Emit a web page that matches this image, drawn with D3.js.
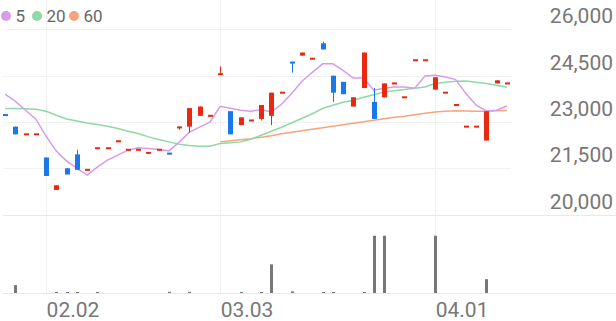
<!DOCTYPE html>
<html>
<head>
<meta charset="utf-8">
<script src="https://cdn.jsdelivr.net/npm/d3@7"></script>
<style>
  html, body { margin: 0; padding: 0; background: #fff; }
  svg { display: block; font-family: Roboto, "Noto Sans", sans-serif; }
</style>
</head>
<body>
<svg id="chart" width="616" height="321"></svg>
<script>
/* daily candles, 2026-01-27 .. 2026-04-10 */
const dates = ["01.27","01.28","01.29","01.30","02.02","02.03","02.04","02.05","02.06","02.09",
  "02.10","02.11","02.12","02.13","02.19","02.20","02.23","02.24","02.25","02.26",
  "02.27","03.03","03.04","03.05","03.06","03.09","03.10","03.11","03.12","03.13",
  "03.16","03.17","03.18","03.19","03.20","03.23","03.24","03.25","03.26","03.27",
  "03.30","03.31","04.01","04.02","04.03","04.06","04.07","04.08","04.09","04.10"];

const open = [23250,22850,22600,22600,21850,20800,21500,21950,21450,22150,
  22150,22350,22100,22100,22000,22100,22000,22800,22850,23200,
  23200,24550,23350,22900,23050,23100,23200,23950,24950,25150,
  25050,25550,24500,24300,23500,24100,23650,23800,24250,23800,
  25000,25000,24050,23950,23550,22850,22850,22400,24250,24250];
const high = [23250,22850,22600,22600,21850,20950,21500,22100,21450,22150,
  22150,22400,22100,22100,22000,22100,22000,22850,23450,23500,
  23200,24800,23350,23150,23050,23550,23950,23950,24950,25250,
  25050,25600,24500,24300,23800,25250,24100,24250,24250,23800,
  25000,25000,24450,23950,23550,22850,22850,23350,24350,24250];
const low = [23200,22600,22600,22600,21250,20800,21300,21450,21450,22150,
  22150,22350,22100,22100,22000,22100,21950,22750,22650,23200,
  23200,24550,22600,22900,23050,23050,22900,23950,24600,25150,
  25050,25350,23650,23900,23500,24100,23100,23800,24250,23800,
  25000,25000,24050,23950,23550,22850,22850,22400,24250,24250];
const close = [23200,22600,22600,22600,21250,20950,21300,21450,21450,22150,
  22150,22400,22100,22100,22000,22100,21950,22850,23450,23500,
  23200,24550,22600,23150,23050,23550,23950,23950,24900,25250,
  25050,25350,23950,23900,23800,25250,23100,24250,24250,23800,
  25000,25000,24450,23950,23550,22850,22850,23350,24350,24250];

const volume = [0,400,0,0,0,30,30,30,0,30,
  0,0,0,0,0,0,60,0,60,0,
  0,0,0,30,0,30,1450,0,80,0,
  0,30,30,0,0,30,2900,2900,0,0,
  0,0,2900,0,0,0,0,700,0,0];

/* moving averages */
const ma5 = [23900,23670,23381,23090,22541,22056,21732,21506,21280,21538,
  21765,21926,22088,22162,22143,22111,22065,22347,22670,22832,
  22993,23511,23446,23381,23349,23404,23326,23575,23931,24319,
  24610,24885,24885,24674,24426,24426,24028,24093,24135,24135,
  24093,24490,24513,24458,24374,23921,23543,23359,23381,23520];
const ma20 = [23436,23436,23430,23414,23349,23220,23100,23035,22971,22919,
  22864,22790,22702,22628,22518,22434,22356,22282,22240,22217,
  22217,22305,22324,22356,22444,22573,22702,22832,22977,23123,
  23268,23436,23543,23640,23705,23802,23882,23973,24012,24051,
  24093,24135,24244,24287,24319,24329,24287,24244,24190,24125];
const ma60 = [null,null,null,null,null,null,null,null,null,null,
  null,null,null,null,null,null,null,null,null,null,
  null,22356,22395,22428,22460,22508,22557,22621,22670,22719,
  22767,22815,22864,22912,22961,23009,23058,23106,23155,23187,
  23236,23284,23326,23349,23365,23360,23349,23349,23365,23370];

const maNames = ["5", "20", "60"];
const maColors = ["#d69ceb", "#8fd9a3", "#f7a47e"];
const priceTicks = [20000, 21500, 23000, 24500, 26000];
const dateTicks = ["02.02", "03.03", "04.01"];

const UP = "#e8290f", DOWN = "#1a78ea";

const svg = d3.select("#chart");
const W = 616;

const x = d3.scaleBand().domain(dates).range([0, 512]).padding(0);
const cx = d => x(d) + x.bandwidth() / 2;
const y = d3.scaleLinear().domain([20000, 26000]).range([214.6, 29.4]);
const yv = d3.scaleLinear().domain([0, 4000]).range([293, 214]);

/* grid */
const grid = svg.append("g");
grid.selectAll("line.h").data(priceTicks.filter(t => t > 20000)).join("line")
  .attr("x1", 3).attr("x2", 511)
  .attr("y1", d => Math.round(y(d)) + 0.5).attr("y2", d => Math.round(y(d)) + 0.5)
  .attr("stroke", "#f1f1f1");
grid.selectAll("line.v").data(dateTicks).join("line")
  .attr("x1", d => Math.round(cx(d)) + 0.5).attr("x2", d => Math.round(cx(d)) + 0.5)
  .attr("y1", 0).attr("y2", 293)
  .attr("stroke", "#f1f1f1");
[y(20000), 293].forEach(v => {
  grid.append("line").attr("x1", 3).attr("x2", W)
    .attr("y1", Math.round(v) + 0.5).attr("y2", Math.round(v) + 0.5)
    .attr("stroke", "#e9e9e9");
});

/* price labels */
svg.append("g").selectAll("text").data(priceTicks).join("text")
  .attr("x", 613).attr("y", d => y(d) - 6)
  .attr("text-anchor", "end").attr("font-size", 21).attr("fill", "#777")
  .text(d => d3.format(",")(d));

/* date labels */
svg.append("g").selectAll("text").data(dateTicks).join("text")
  .attr("x", d => cx(d) + 0.5).attr("y", 317)
  .attr("font-size", 21).attr("fill", "#777")
  .text(d => d);

/* moving averages */
[ma5, ma20, ma60].slice().reverse().forEach((s, k) => {
  const i = 2 - k;
  const line = d3.line()
    .defined(d => d != null)
    .x((d, j) => cx(dates[j]))
    .y(d => y(d));
  svg.append("path").datum(s)
    .attr("fill", "none").attr("stroke", maColors[i]).attr("stroke-width", 1.5)
    .attr("d", line);
});

/* candles */
const candles = dates.map((d, i) => ({ d, o: open[i], h: high[i], l: low[i], c: close[i] }));
const cg = svg.append("g").selectAll("g").data(candles).join("g");
cg.append("line")
  .attr("x1", d => Math.round(cx(d.d)) + 0.5).attr("x2", d => Math.round(cx(d.d)) + 0.5)
  .attr("y1", d => y(d.h)).attr("y2", d => y(d.l))
  .attr("stroke", d => d.c < d.o ? DOWN : UP).attr("stroke-width", 1);
cg.append("rect")
  .attr("x", d => Math.round(cx(d.d)) - 2)
  .attr("width", 5)
  .attr("y", d => {
    const t = y(Math.max(d.o, d.c)), b = y(Math.min(d.o, d.c));
    return b - t < 2 ? (t + b) / 2 - 1 : t;
  })
  .attr("height", d => Math.max(2, y(Math.min(d.o, d.c)) - y(Math.max(d.o, d.c))))
  .attr("fill", d => d.c < d.o ? DOWN : UP);

/* volume */
svg.append("g").selectAll("rect").data(volume.map((v, i) => ({ d: dates[i], v })).filter(e => e.v > 0)).join("rect")
  .attr("x", d => Math.round(cx(d.d)) - 1)
  .attr("width", 3)
  .attr("y", d => Math.min(yv(d.v), 292))
  .attr("height", d => Math.max(1, 293 - yv(d.v)))
  .attr("fill", "#777");

/* legend */
const lx = [6, 37, 74];
const legend = svg.append("g");
maNames.forEach((n, i) => {
  legend.append("circle").attr("cx", lx[i]).attr("cy", 16).attr("r", 5).attr("fill", maColors[i]);
  legend.append("text").attr("x", lx[i] + 9.5).attr("y", 22)
    .attr("font-size", 17).attr("fill", "#666").text(n);
});
</script>
</body>
</html>
